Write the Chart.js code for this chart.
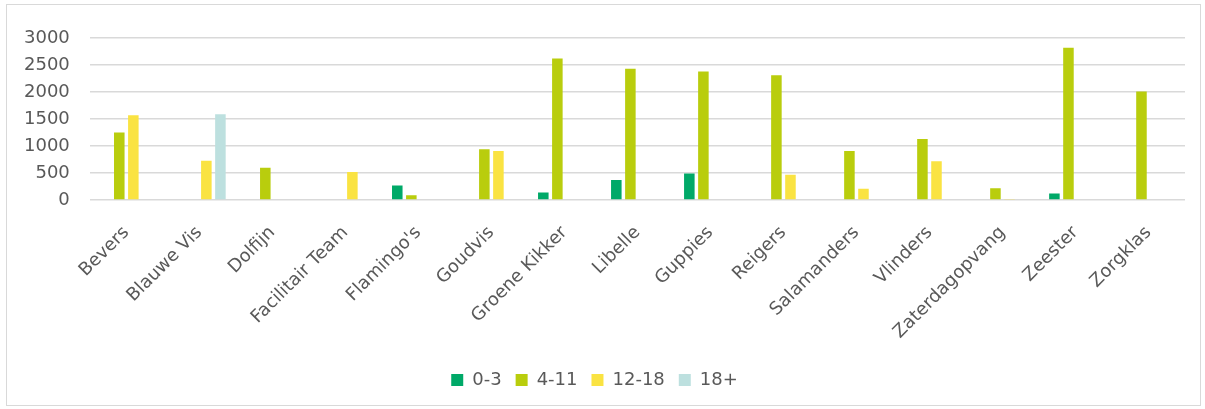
<!DOCTYPE html>
<html lang="nl">
<head>
    <meta charset="UTF-8">
    <title>Groepen per leeftijd</title>
    <style>
        * { margin: 0; padding: 0; box-sizing: border-box; }
        body { background: #fff; width: 1205px; height: 409px; overflow: hidden; }
        .frame {
            position: absolute;
            left: 6px; top: 4px;
            width: 1195px; height: 402px;
            border: 1px solid #d9d9d9;
        }
        .chart-box {
            position: absolute;
            left: 0; top: 0;
            width: 1205px; height: 409px;
        }
    </style>
</head>
<body>
    <div class="frame"></div>
    <div class="chart-box"><canvas id="chart"></canvas></div>

    <script src="https://cdn.jsdelivr.net/npm/chart.js"></script>
    <script>
        // groepen (categorieen)
        const groups = ['Bevers', 'Blauwe Vis', 'Dolfijn', 'Facilitair Team', "Flamingo's", 'Goudvis',
            'Groene Kikker', 'Libelle', 'Guppies', 'Reigers', 'Salamanders', 'Vlinders',
            'Zaterdagopvang', 'Zeester', 'Zorgklas'];

        // waarden per leeftijdsgroep
        const age0to3   = [0, 0, 0, 0, 270, 0, 140, 370, 490, 0, 0, 0, 0, 120, 0];
        const age4to11  = [1250, 0, 600, 0, 90, 940, 2620, 2430, 2380, 2310, 910, 1130, 220, 2820, 2010];
        const age12to18 = [1570, 730, 0, 520, 0, 910, 0, 0, 0, 470, 210, 720, 10, 0, 0];
        const age18plus = [0, 1590, 0, 0, 0, 0, 0, 0, 0, 0, 0, 0, 0, 0, 0];

        const yTicks = [0, 500, 1000, 1500, 2000, 2500, 3000];

        const textColor = '#595959';
        const font = { family: "'DejaVu Sans', sans-serif", size: 18 };

        function series(label, data, color) {
            return {
                label: label,
                data: data,
                backgroundColor: color,
                borderWidth: 0,
                categoryPercentage: 0.77,
                barPercentage: 0.75
            };
        }

        new Chart(document.getElementById('chart'), {
            type: 'bar',
            data: {
                labels: groups,
                datasets: [
                    series('0-3', age0to3, '#00a968'),
                    series('4-11', age4to11, '#b9cd0d'),
                    series('12-18', age12to18, '#fae342'),
                    series('18+', age18plus, '#bde0df')
                ]
            },
            options: {
                responsive: true,
                maintainAspectRatio: false,
                animation: false,
                layout: { padding: { left: 4, right: 20, top: 38, bottom: 10 } },
                plugins: {
                    tooltip: { enabled: false },
                    legend: {
                        position: 'bottom',
                        labels: {
                            color: textColor,
                            font: font,
                            boxWidth: 12,
                            boxHeight: 12,
                            padding: 14
                        }
                    }
                },
                scales: {
                    x: {
                        grid: { display: false },
                        border: { display: false },
                        ticks: {
                            color: textColor,
                            font: font,
                            maxRotation: 45,
                            minRotation: 45,
                            autoSkip: false,
                            padding: 14
                        }
                    },
                    y: {
                        min: 0,
                        max: 3000,
                        afterBuildTicks: axis => { axis.ticks = yTicks.map(v => ({ value: v })); },
                        grid: { color: '#d9d9d9', lineWidth: 1.5, drawTicks: false },
                        border: { display: false },
                        ticks: {
                            color: textColor,
                            font: font,
                            padding: 20,
                            callback: v => String(v)
                        }
                    }
                }
            }
        });
    </script>
</body>
</html>
